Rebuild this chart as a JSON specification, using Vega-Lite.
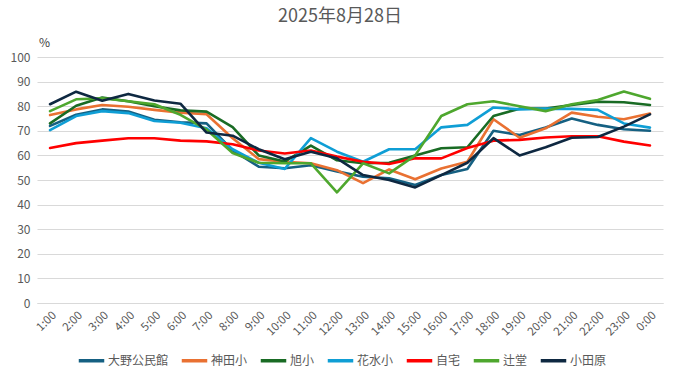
{
  "$schema": "https://vega.github.io/schema/vega-lite/v6.json",
  "width": 626,
  "height": 246,
  "autosize": {"type": "none"},
  "padding": {"left": 37, "top": 57, "right": 18, "bottom": 76},
  "background": "white",
  "title": {
    "text": "2025年8月28日",
    "fontSize": 18,
    "fontWeight": "normal",
    "color": "#595959",
    "font": "Noto Sans CJK JP",
    "anchor": "middle",
    "offset": 10,
    "dx": -10
  },
  "config": {
    "view": {"stroke": null},
    "font": "Noto Sans CJK JP"
  },
  "data": {
    "values": [
      {"i": 1, "t": "1:00", "大野公民館": 72, "神田小": 76.4, "旭小": 73, "花水小": 70.3, "自宅": 63, "辻堂": 78, "小田原": 80.8},
      {"i": 2, "t": "2:00", "大野公民館": 76.5, "神田小": 78.7, "旭小": 80.2, "花水小": 76, "自宅": 65, "辻堂": 82.8, "小田原": 85.9},
      {"i": 3, "t": "3:00", "大野公民館": 78.7, "神田小": 80.5, "旭小": 83.5, "花水小": 78, "自宅": 66, "辻堂": 83.2, "小田原": 82.2},
      {"i": 4, "t": "4:00", "大野公民館": 77.8, "神田小": 79.8, "旭小": 82, "花水小": 77.2, "自宅": 67, "辻堂": 82, "小田原": 85},
      {"i": 5, "t": "5:00", "大野公民館": 74.5, "神田小": 78.5, "旭小": 80, "花水小": 74, "自宅": 67, "辻堂": 80.8, "小田原": 82.3},
      {"i": 6, "t": "6:00", "大野公民館": 73.5, "神田小": 77.4, "旭小": 78.3, "花水小": 73.3, "自宅": 66, "辻堂": 76.5, "小田原": 81},
      {"i": 7, "t": "7:00", "大野公民館": 73, "神田小": 76.7, "旭小": 77.8, "花水小": 71, "自宅": 65.7, "辻堂": 70.5, "小田原": 69.3},
      {"i": 8, "t": "8:00", "大野公民館": 62, "神田小": 67, "旭小": 71.5, "花水小": 62.5, "自宅": 64.5, "辻堂": 61, "小田原": 68},
      {"i": 9, "t": "9:00", "大野公民館": 55.4, "神田小": 58.5, "旭小": 60, "花水小": 57, "自宅": 62, "辻堂": 57, "小田原": 62.5},
      {"i": 10, "t": "10:00", "大野公民館": 54.8, "神田小": 57.4, "旭小": 57.5, "花水小": 54.5, "自宅": 60.8, "辻堂": 56.8, "小田原": 58.4},
      {"i": 11, "t": "11:00", "大野公民館": 56, "神田小": 56.8, "旭小": 64, "花水小": 67, "自宅": 62, "辻堂": 56.8, "小田原": 61.5},
      {"i": 12, "t": "12:00", "大野公民館": 53.5, "神田小": 54, "旭小": 58, "花水小": 61.5, "自宅": 59.5, "辻堂": 45, "小田原": 58.8},
      {"i": 13, "t": "13:00", "大野公民館": 51.3, "神田小": 48.7, "旭小": 56.8, "花水小": 57.4, "自宅": 57.4, "辻堂": 56.8, "小田原": 52},
      {"i": 14, "t": "14:00", "大野公民館": 50.7, "神田小": 54.3, "旭小": 57, "花水小": 62.5, "自宅": 56.5, "辻堂": 52.7, "小田原": 50},
      {"i": 15, "t": "15:00", "大野公民館": 48, "神田小": 50.3, "旭小": 60, "花水小": 62.5, "自宅": 58.8, "辻堂": 60, "小田原": 47},
      {"i": 16, "t": "16:00", "大野公民館": 52, "神田小": 54.7, "旭小": 62.9, "花水小": 71.4, "自宅": 58.8, "辻堂": 76, "小田原": 52},
      {"i": 17, "t": "17:00", "大野公民館": 54.5, "神田小": 57.4, "旭小": 63.3, "花水小": 72.4, "自宅": 63, "辻堂": 80.8, "小田原": 57},
      {"i": 18, "t": "18:00", "大野公民館": 70, "神田小": 74.7, "旭小": 76, "花水小": 79.5, "自宅": 66, "辻堂": 82, "小田原": 67},
      {"i": 19, "t": "19:00", "大野公民館": 68.3, "神田小": 67.2, "旭小": 79, "花水小": 78.7, "自宅": 66.3, "辻堂": 80, "小田原": 60},
      {"i": 20, "t": "20:00", "大野公民館": 71.3, "神田小": 71, "旭小": 79, "花水小": 79, "自宅": 67.3, "辻堂": 78, "小田原": 63.3},
      {"i": 21, "t": "21:00", "大野公民館": 75, "神田小": 77.4, "旭小": 80.5, "花水小": 78.9, "自宅": 67.8, "辻堂": 80.8, "小田原": 67.2},
      {"i": 22, "t": "22:00", "大野公民館": 72.4, "神田小": 75.7, "旭小": 81.8, "花水小": 78.5, "自宅": 67.8, "辻堂": 82.5, "小田原": 67.5},
      {"i": 23, "t": "23:00", "大野公民館": 70.6, "神田小": 74.7, "旭小": 81.6, "花水小": 73, "自宅": 65.6, "辻堂": 86, "小田原": 71.7},
      {"i": 24, "t": "0:00", "大野公民館": 70, "神田小": 77, "旭小": 80.5, "花水小": 71.3, "自宅": 64, "辻堂": 83, "小田原": 76.7}
    ]
  },
  "transform": [
    {"fold": ["大野公民館", "神田小", "旭小", "花水小", "自宅", "辻堂", "小田原"], "as": ["s", "v"]}
  ],
  "mark": {"type": "line", "strokeWidth": 2.6, "strokeJoin": "round", "strokeCap": "round"},
  "encoding": {
    "x": {
      "field": "t",
      "type": "nominal",
      "scale": {"type": "point", "padding": 0.5, "domain": ["1:00","2:00","3:00","4:00","5:00","6:00","7:00","8:00","9:00","10:00","11:00","12:00","13:00","14:00","15:00","16:00","17:00","18:00","19:00","20:00","21:00","22:00","23:00","0:00"]},
      "axis": {
        "title": null,
        "labelAngle": -45,
        "labelFontSize": 11.5,
        "labelColor": "#595959",
        "labelPadding": 6,
        "ticks": false,
        "domainColor": "#d9d9d9",
        "domainWidth": 1,
        "grid": false
      }
    },
    "y": {
      "field": "v",
      "type": "quantitative",
      "scale": {"domain": [0, 100], "nice": false},
      "axis": {
        "values": [0,10,20,30,40,50,60,70,80,90,100],
        "title": "%",
        "titleAngle": 0,
        "titleX": 7,
        "titleY": -15,
        "titleAlign": "center",
        "titleBaseline": "middle",
        "titleFontSize": 12,
        "titleFontWeight": "normal",
        "titleColor": "#404040",
        "labelFontSize": 12,
        "labelColor": "#595959",
        "labelPadding": 7,
        "ticks": false,
        "domain": false,
        "gridColor": "#d9d9d9",
        "gridWidth": 1
      }
    },
    "color": {
      "field": "s",
      "type": "nominal",
      "scale": {
        "domain": ["大野公民館", "神田小", "旭小", "花水小", "自宅", "辻堂", "小田原"],
        "range": ["#156082", "#E97132", "#196B24", "#0F9ED5", "#FF0000", "#4EA72E", "#0E2841"]
      },
      "legend": {
        "title": null,
        "orient": "none",
        "direction": "horizontal",
        "legendX": 40,
        "legendY": 289,
        "symbolType": "stroke",
        "symbolSize": 650,
        "symbolStrokeWidth": 3.5,
        "labelFontSize": 12,
        "labelColor": "#595959",
        "labelOffset": 2,
        "columnPadding": 5
      }
    },
    "order": {"field": "i", "type": "quantitative"}
  }
}
